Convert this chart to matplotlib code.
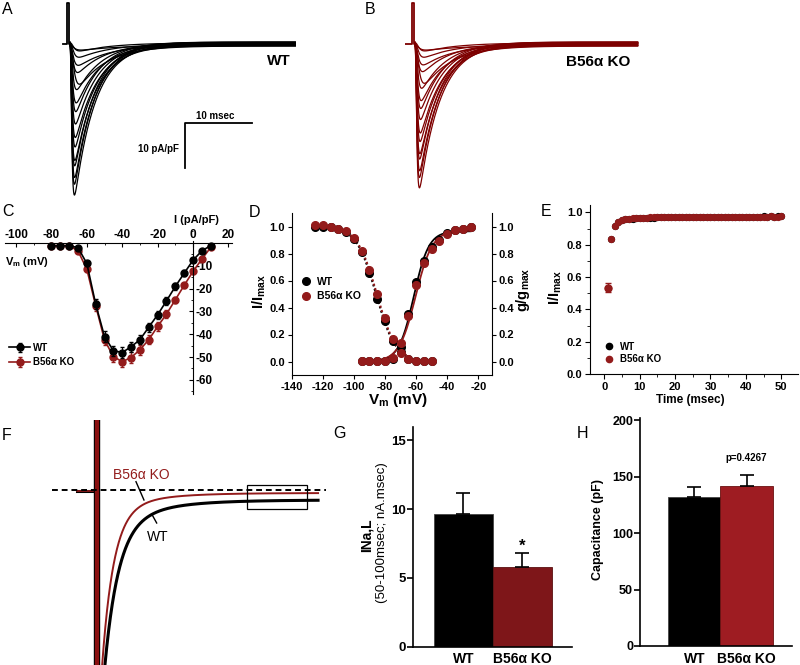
import numpy as np
import matplotlib
matplotlib.use("Agg")
import matplotlib.pyplot as plt
from matplotlib.ticker import MultipleLocator
from matplotlib.lines import Line2D
from matplotlib.patches import Rectangle

plt.rcParams['font.family'] = ['Liberation Sans', 'DejaVu Sans']
plt.rcParams['mathtext.fontset'] = 'custom'
plt.rcParams['mathtext.rm'] = 'Liberation Sans'
plt.rcParams['mathtext.it'] = 'Liberation Sans:italic'
plt.rcParams['mathtext.bf'] = 'Liberation Sans:bold'
plt.rcParams['axes.unicode_minus'] = False

# ---------------- DATA ----------------
# A / B : current families (peak amplitude pA/pF, activation & inactivation time constants ms, baseline offset)
sweep_peak_wt = [33.6, 31.5, 29.5, 27.5, 25.5, 23.0, 20.5, 18.0, 15.5, 13.0, 10.5, 8.5, 6.5, 4.5, 3.0, 1.8, 1.0]
sweep_peak_ko = [32.0, 30.0, 28.0, 26.0, 24.0, 21.8, 19.5, 17.0, 14.8, 12.5, 10.2, 8.3, 6.3, 4.4, 3.0, 1.8, 1.0]
sweep_tau_act = [0.16, 0.16, 0.17, 0.17, 0.18, 0.19, 0.20, 0.21, 0.22, 0.24, 0.26, 0.40, 0.30, 0.33, 0.36, 0.40, 0.45]
sweep_tau_inact = [3.1, 3.1, 3.1, 3.15, 3.2, 3.25, 3.3, 3.4, 3.5, 3.6, 3.8, 4.2, 4.2, 4.5, 4.8, 5.0, 5.5]
sweep_offset = [0.0, 0.3, -0.2, 0.4, -0.4, 0.1, -0.3, 0.2, 0.45, -0.1, 0.35, -0.45, 0.15, -0.25, 0.05, 0.25, -0.35]
trace_end = [33.6, 33.2]
step_t_wt = [-1.0, -0.5, -0.5, -0.1, -0.1, 0.0]
step_t_ko = [-1.5, -0.5, -0.5, -0.1, -0.1, 0.0]
step_i = [0.0, 0.0, 9.2, 9.2, 0.0, 0.0]
scalebar_t = [27.2, 17.2, 17.2]
scalebar_i = [-17.6, -17.6, -27.6]

# C : I-V relationship
iv_v = [-80, -75, -70, -65, -60, -55, -50, -45, -40, -35, -30, -25, -20, -15, -10, -5, 0, 5, 10]
iv_wt = [-1.25, -1.25, -1.25, -2.1, -9.0, -26.8, -41.0, -47.2, -48.0, -45.5, -42.4, -36.9, -31.5, -25.4, -19.1, -13.3, -7.6, -3.5, -1.2]
iv_ko = [-1.25, -1.25, -1.25, -3.5, -11.5, -27.5, -42.5, -49.8, -52.0, -50.2, -46.8, -42.4, -36.6, -31.2, -24.9, -18.6, -12.5, -7.1, -2.0]
iv_wt_err = [0.3, 0.3, 0.3, 0.5, 1.0, 2.0, 2.2, 2.2, 2.2, 2.2, 2.0, 2.0, 1.8, 1.6, 1.4, 1.2, 1.0, 0.8, 0.6]
iv_ko_err = [0.3, 0.3, 0.3, 0.6, 1.2, 2.2, 2.4, 2.4, 2.4, 2.4, 2.2, 2.0, 1.8, 1.6, 1.4, 1.2, 1.0, 0.8, 0.6]

# D : steady-state inactivation and activation
inact_v = [-125, -120, -115, -110, -105, -100, -95, -90, -85, -80, -75, -70, -65, -60, -55, -50]
inact_wt = [1.0, 1.0, 1.0, 0.985, 0.96, 0.91, 0.81, 0.655, 0.465, 0.30, 0.155, 0.07, 0.02, 0.005, 0.005, 0.005]
inact_ko = [1.01, 1.01, 1.0, 0.985, 0.965, 0.915, 0.815, 0.675, 0.50, 0.32, 0.17, 0.06, 0.02, 0.005, 0.005, 0.005]
act_v = [-95, -90, -85, -80, -75, -70, -65, -60, -55, -50, -45, -40, -35, -30, -25]
act_wt = [0.005, 0.005, 0.005, 0.007, 0.02, 0.11, 0.35, 0.59, 0.745, 0.845, 0.90, 0.95, 0.975, 0.985, 1.0]
act_ko = [0.005, 0.005, 0.005, 0.007, 0.025, 0.14, 0.34, 0.57, 0.73, 0.83, 0.89, 0.945, 0.975, 0.985, 1.0]
act_fit_gmax = [0.965, 0.97]
act_fit_vhalf = [-61.5, -60.3]
act_fit_k = [4.8, 5.3]
inact_fit_vhalf = [-85.8, -85.3]
inact_fit_k = [6.3, 6.3]

# E : recovery from inactivation
rec_t = list(range(1, 51))
rec_wt = [0.530, 0.835, 0.915, 0.940, 0.951, 0.957, 0.960, 0.962, 0.964, 0.965, 0.966, 0.967, 0.968, 0.968, 0.969,
          0.969, 0.970, 0.970, 0.970, 0.971, 0.970, 0.971, 0.971, 0.972, 0.971, 0.972, 0.971, 0.972, 0.972, 0.972,
          0.973, 0.972, 0.973, 0.972, 0.973, 0.973, 0.974, 0.973, 0.974, 0.973, 0.974, 0.974, 0.973, 0.974, 0.975,
          0.974, 0.975, 0.974, 0.975, 0.975]
rec_ko = [0.535, 0.838, 0.918, 0.942, 0.953, 0.958, 0.961, 0.963, 0.965, 0.966, 0.967, 0.968, 0.970, 0.969, 0.970,
          0.969, 0.970, 0.971, 0.970, 0.971, 0.970, 0.971, 0.972, 0.971, 0.972, 0.971, 0.972, 0.971, 0.972, 0.973,
          0.972, 0.973, 0.972, 0.973, 0.972, 0.974, 0.973, 0.972, 0.973, 0.974, 0.973, 0.974, 0.973, 0.974, 0.973,
          0.974, 0.975, 0.974, 0.974, 0.975]
rec_err_first = 0.03

# F : late current traces (WT, KO): late level, fast & slow decay components
f_late = [1.0, 0.3]
f_amp_fast = [26.3, 26.0]
f_tau_fast = [12.5, 10.5]
f_amp_slow = [3.3, 2.2]
f_tau_slow = [41.7, 38.0]
f_trace_end = 201.0
f_pre_t = [-17.0, 0.0]
f_pre_i = [-0.1, -0.1]
f_spike_t = [1.0, 1.0]
f_spike_i = [-20.0, 10.0]
f_zero_t = [-40.0, 208.0]
f_box_t = [136.4, 190.7]
f_box_i = [-1.9, 0.5]

# G / H : bar charts
groups = ['WT', 'B56α KO']
inal_mean = [9.63, 5.81]
inal_err = [1.55, 1.04]
cap_mean = [131.6, 142.0]
cap_err = [9.0, 9.0]

# ---------------- STYLE ----------------
BLK = 'black'
RED = '#931b1b'
TRACE_RED = '#7d0000'
BAR_RED_G = '#7e1619'
BAR_RED_H = '#9e1c22'

W, H = 800, 665
fig = plt.figure(figsize=(8, 6.65), dpi=100)


def px_axes(l, t, r, b):
    return fig.add_axes([l / W, 1 - b / H, (r - l) / W, (b - t) / H])


def ftext(x, y, s, **kw):
    kw.setdefault('ha', 'center')
    kw.setdefault('va', 'center')
    fig.text(x / W, 1 - y / H, s, **kw)


def sweep_current(t, peak, tm, th):
    shape = (1 - np.exp(-t / tm)) ** 3 * np.exp(-t / th)
    return -peak * shape / shape.max()


# ---------------- A & B ----------------
for left, peaks, tend, step_t, col, lab in [(60, sweep_peak_wt, trace_end[0], step_t_wt, BLK, 'WT'),
                                            (405, sweep_peak_ko, trace_end[1], step_t_ko, TRACE_RED, 'B56α KO')]:
    ax = px_axes(left, 0, left + 240, 200)
    t = np.linspace(0, tend, 3000)
    for pk, tm, th, off in zip(peaks, sweep_tau_act, sweep_tau_inact, sweep_offset):
        ax.plot(t, sweep_current(t, pk, tm, th) + off, color=col, lw=0.9)
    ax.plot(step_t, step_i, color=col, lw=1.3)
    ax.set_xlim(-1.5, 34.3)
    ax.set_ylim(-34.7, 9.78)
    ax.axis('off')
    if lab == 'WT':
        ax.plot(scalebar_t, scalebar_i, color=BLK, lw=1.3)
        ax.text(21.6, -16.0, '10 msec', ha='center', va='center', fontsize=7, weight='bold')
        ax.text(16.2, -23.3, '10 pA/pF', ha='right', va='center', fontsize=7, weight='bold')
        ax.text(31.2, -3.8, 'WT', ha='center', va='center', fontsize=11, weight='bold')
    else:
        ax.text(27.3, -4.0, 'B56α KO', ha='center', va='center', fontsize=11, weight='bold')

# ---------------- C ----------------
axC = px_axes(5, 225, 232, 395)
axC.set_xlim(-106.2, 22.0)
axC.set_ylim(-66.6, 7.8)
for sp in ['left', 'bottom']:
    axC.spines[sp].set_visible(False)
axC.spines['top'].set_position(('data', 0))
axC.spines['right'].set_position(('data', 0))
axC.spines['right'].set_bounds(-66, 1)
axC.xaxis.tick_top()
axC.yaxis.tick_right()
axC.set_xticks(range(-100, 21, 20))
axC.set_yticks(range(-60, -9, 10))
axC.xaxis.set_minor_locator(MultipleLocator(10))
axC.yaxis.set_minor_locator(MultipleLocator(5))
axC.tick_params(axis='x', which='major', direction='in', length=3, pad=1, labelsize=8.5)
axC.tick_params(axis='y', which='major', direction='in', length=3, pad=2, labelsize=8.5)
axC.tick_params(which='minor', direction='in', length=1.5)
for lbl in axC.get_xticklabels() + axC.get_yticklabels():
    lbl.set_fontweight('bold')
axC.errorbar(iv_v, iv_wt, yerr=iv_wt_err, color=BLK, marker='o', ms=5, lw=1.2, capsize=1.5, elinewidth=0.8, label='WT', zorder=3)
axC.errorbar(iv_v, iv_ko, yerr=iv_ko_err, color=RED, marker='o', ms=5, lw=1.2, capsize=1.5, elinewidth=0.8, label='B56α KO', zorder=2)
axC.legend(loc='center left', bbox_to_anchor=(9 / W, 1 - 355 / H), bbox_transform=fig.transFigure,
           frameon=False, handlelength=2.2, handletextpad=0.3, labelspacing=0.45, borderpad=0, borderaxespad=0,
           prop={'weight': 'bold', 'size': 7})
ftext(196, 220, 'I (pA/pF)', fontsize=8, weight='bold')
ftext(27, 262, r'$\mathbf{V_m}$' + ' (mV)', fontsize=8, weight='bold')

# ---------------- D ----------------
axD = px_axes(291.7, 213, 491.7, 375)
axD.set_xlim(-140, -11.4)
axD.set_ylim(-0.1, 1.1)
axD.spines['top'].set_visible(False)
axD.set_xticks(range(-140, -19, 20))
axD.set_yticks(np.arange(0, 1.01, 0.2))
axD.yaxis.set_major_formatter(matplotlib.ticker.FormatStrFormatter('%.1f'))
axD.tick_params(axis='both', direction='out', length=3, labelsize=8, pad=2)
axD.tick_params(axis='y', right=True, labelright=True)
for lbl in axD.get_xticklabels() + axD.get_yticklabels():
    lbl.set_fontweight('bold')
for tk in axD.yaxis.get_major_ticks():
    tk.label2.set_fontweight('bold')
v_act = np.linspace(-85, -25, 200)
v_inact = np.linspace(-125, -65, 200)
for gi, col in enumerate([BLK, RED]):
    act_curve = act_fit_gmax[gi] / (1 + np.exp((act_fit_vhalf[gi] - v_act) / act_fit_k[gi]))
    inact_curve = 1 / (1 + np.exp((v_inact - inact_fit_vhalf[gi]) / inact_fit_k[gi]))
    axD.plot(v_act, act_curve, color=col, lw=1.3, zorder=2)
    axD.plot(v_inact, inact_curve, color=col, lw=1.5, ls=(0, (1, 1.2)), zorder=2)
axD.errorbar(inact_v, inact_wt, yerr=0.015, color=BLK, marker='o', ms=5.5, ls='none', capsize=1.5, elinewidth=0.8, zorder=3)
axD.errorbar(act_v, act_wt, yerr=0.015, color=BLK, marker='o', ms=5.5, ls='none', capsize=1.5, elinewidth=0.8, zorder=3)
axD.errorbar(inact_v, inact_ko, yerr=0.015, color=RED, marker='o', ms=5.5, ls='none', capsize=1.5, elinewidth=0.8, zorder=4)
axD.errorbar(act_v, act_ko, yerr=0.02, color=RED, marker='o', ms=5.5, ls='none', capsize=1.5, elinewidth=0.8, zorder=4)
axD.legend(handles=[Line2D([], [], ls='none', marker='o', color=BLK, ms=5.5),
                    Line2D([], [], ls='none', marker='o', color=RED, ms=5.5)],
           labels=groups, loc='center left', bbox_to_anchor=(303 / W, 1 - 289 / H), bbox_transform=fig.transFigure,
           frameon=False, handlelength=0.6, handletextpad=0.7, labelspacing=0.45, borderpad=0, borderaxespad=0,
           prop={'weight': 'bold', 'size': 7.5})
ftext(259, 292, r'$\mathbf{I/I_{max}}$', fontsize=10.5, rotation=90)
ftext(523, 290, r'$\mathbf{g/g_{max}}$', fontsize=10.5, rotation=90)
ftext(398, 400, r'$\mathbf{V_m}$' + ' (mV)', fontsize=11, weight='bold')

# ---------------- E ----------------
axE = px_axes(590, 205, 798, 374)
axE.set_xlim(-4, 54.7)
axE.set_ylim(0, 1.046)
for sp in ['top', 'right']:
    axE.spines[sp].set_visible(False)
axE.set_xticks(range(0, 51, 10))
axE.set_yticks(np.arange(0, 1.01, 0.2))
axE.yaxis.set_major_formatter(matplotlib.ticker.FormatStrFormatter('%.1f'))
axE.xaxis.set_minor_locator(MultipleLocator(5))
axE.yaxis.set_minor_locator(MultipleLocator(0.1))
axE.tick_params(which='major', direction='out', length=3.5, labelsize=8, pad=2)
axE.tick_params(which='minor', direction='out', length=2)
for lbl in axE.get_xticklabels() + axE.get_yticklabels():
    lbl.set_fontweight('bold')
axE.plot(rec_t, rec_wt, ls='none', marker='o', color=BLK, ms=4.2, zorder=3)
axE.plot(rec_t, rec_ko, ls='none', marker='o', color=RED, ms=4.2, zorder=4)
axE.errorbar(rec_t[:1], rec_ko[:1], yerr=rec_err_first, color=RED, marker='o', ms=5, ls='none', capsize=2, elinewidth=0.9, zorder=5)
axE.legend(handles=[Line2D([], [], ls='none', marker='o', color=BLK, ms=4.5),
                    Line2D([], [], ls='none', marker='o', color=RED, ms=4.5)],
           labels=groups, loc='center left', bbox_to_anchor=(607 / W, 1 - 353 / H), bbox_transform=fig.transFigure,
           frameon=False, handlelength=0.5, handletextpad=0.8, labelspacing=0.3, borderpad=0, borderaxespad=0,
           prop={'weight': 'bold', 'size': 7})
ftext(555, 288, r'$\mathbf{I/I_{max}}$', fontsize=10.5, rotation=90)
ftext(690, 400, 'Time (msec)', fontsize=8.5, weight='bold')

# ---------------- F ----------------
axF = px_axes(0, 420, 330, 665)
axF.set_xlim(-86.9, 211.8)
axF.set_ylim(-17.5, 7.0)
axF.axis('off')
f_t = np.linspace(2.0, f_trace_end, 2000)
for gi, (col, lw) in enumerate([(BLK, 2.2), (RED, 1.4)]):
    cur = -(f_late[gi] + f_amp_fast[gi] * np.exp(-f_t / f_tau_fast[gi]) + f_amp_slow[gi] * np.exp(-f_t / f_tau_slow[gi]))
    axF.plot(f_t, cur, color=col, lw=lw, zorder=3 + gi)
axF.plot(f_pre_t, f_pre_i, color=BLK, lw=2.2)
axF.plot(f_pre_t, f_pre_i, color=RED, lw=1.2)
axF.plot(f_spike_t, f_spike_i, color=BLK, lw=4.6, solid_capstyle='butt', zorder=5)
axF.plot(f_spike_t, f_spike_i, color='#8a1010', lw=3.0, solid_capstyle='butt', zorder=6)
axF.plot(f_zero_t, [0, 0], color=BLK, lw=1.4, ls=(0, (3, 2)), zorder=6)
axF.add_patch(Rectangle((f_box_t[0], f_box_i[0]), f_box_t[1] - f_box_t[0], f_box_i[1] - f_box_i[0],
                        fill=False, edgecolor=BLK, lw=0.9, zorder=7))
axF.text(40.7, 1.5, 'B56α KO', color=RED, fontsize=10, ha='center', va='center')
axF.plot([36.2, 43.4], [0.83, -1.0], color=BLK, lw=1.0)
axF.text(56.1, -4.7, 'WT', color=BLK, fontsize=10, ha='center', va='center')
axF.plot([50.4, 54.9], [-2.4, -3.3], color=BLK, lw=1.0)

# ---------------- G ----------------
axG = px_axes(413.3, 426.7, 572, 646.7)
axG.bar([0, 1], inal_mean, width=1.0, color=[BLK, BAR_RED_G], edgecolor=['#444444', '#5a1010'], lw=0.6)
axG.errorbar([0, 1], inal_mean, yerr=[[0, 0], inal_err], fmt='none', ecolor=BLK, elinewidth=1.2, capsize=5, capthick=1.2)
axG.set_xlim(-0.852, 1.845)
axG.set_ylim(0, 16)
axG.set_yticks([0, 5, 10, 15])
axG.set_xticks([0, 1])
axG.set_xticklabels(groups)
for sp in ['top', 'right']:
    axG.spines[sp].set_visible(False)
axG.spines['left'].set_linewidth(1.2)
axG.spines['bottom'].set_linewidth(1.2)
axG.tick_params(axis='y', direction='out', length=4, width=1.2, labelsize=9.5, pad=1)
axG.tick_params(axis='x', length=0, labelsize=10, pad=4)
for lbl in axG.get_xticklabels() + axG.get_yticklabels():
    lbl.set_fontweight('bold')
axG.text(1, 7.3, '*', ha='center', va='center', fontsize=12, weight='bold')
ftext(367, 535, 'INa,L', fontsize=10, weight='bold', rotation=90)
ftext(382, 533, '(50-100msec; nA.msec)', fontsize=9.5, rotation=90)

# ---------------- H ----------------
axH = px_axes(640, 418, 792, 646)
axH.bar([0, 1], cap_mean, width=1.0, color=[BLK, BAR_RED_H], edgecolor=['#444444', '#6a1010'], lw=0.6)
axH.errorbar([0, 1], cap_mean, yerr=[[0, 0], cap_err], fmt='none', ecolor=BLK, elinewidth=1.2, capsize=5, capthick=1.2)
axH.set_xlim(-1.042, 1.87)
axH.set_ylim(0, 201.8)
axH.set_yticks([0, 50, 100, 150, 200])
axH.set_xticks([0, 1])
axH.set_xticklabels(groups)
for sp in ['top', 'right']:
    axH.spines[sp].set_visible(False)
axH.spines['left'].set_linewidth(1.2)
axH.spines['bottom'].set_linewidth(1.2)
axH.tick_params(axis='y', direction='out', length=4, width=1.2, labelsize=9, pad=1)
axH.tick_params(axis='x', length=0, labelsize=10, pad=4)
for lbl in axH.get_xticklabels() + axH.get_yticklabels():
    lbl.set_fontweight('bold')
axH.text(1, 166, 'p=0.4267', ha='center', va='center', fontsize=7, weight='bold')
ftext(598, 530, 'Capacitance (pF)', fontsize=9, weight='bold', rotation=90)

# ---------------- panel letters ----------------
for x, y, s in [(7, 9, 'A'), (370, 9, 'B'), (8, 211, 'C'), (255, 212, 'D'), (546, 211, 'E'),
                (7, 436, 'F'), (340, 433, 'G'), (583, 433, 'H')]:
    ftext(x, y, s, fontsize=11.5)

fig.savefig('out.png', dpi=100)
